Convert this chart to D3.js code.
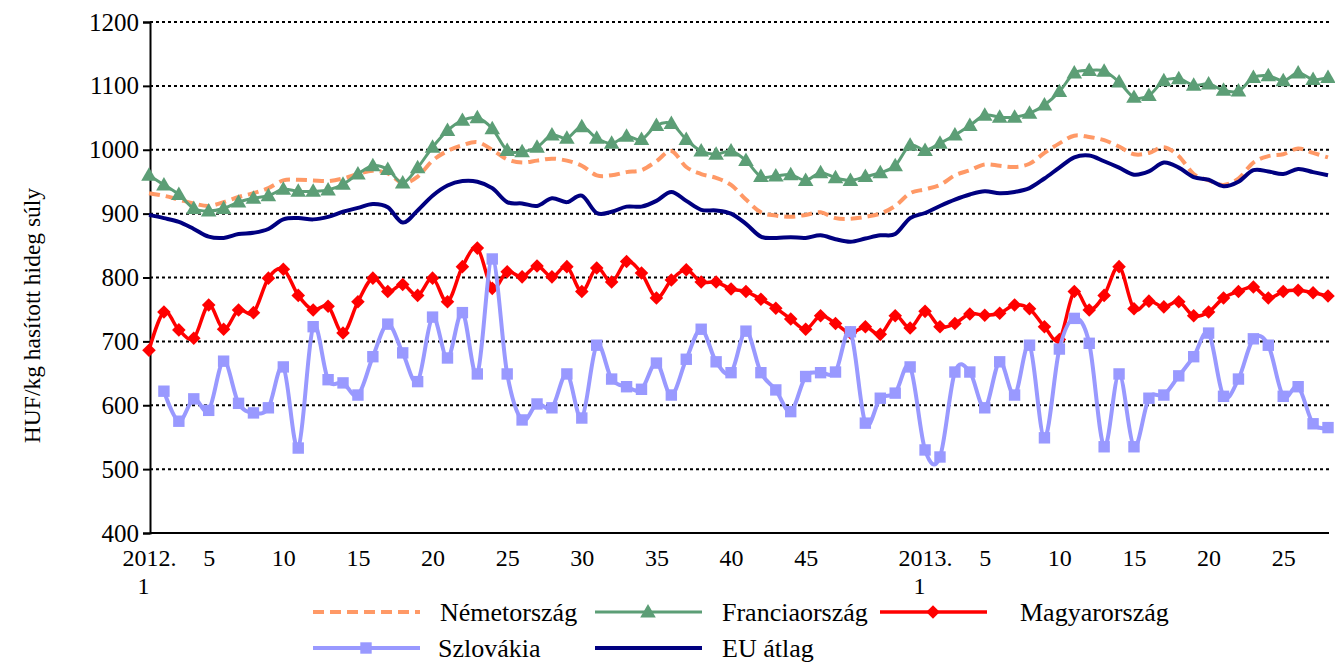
<!DOCTYPE html>
<meta charset="utf-8">
<style>
body { margin: 0; background: #fff; }
text { font-family: "Liberation Serif", "DejaVu Serif", serif; fill: #000; }
.grid line { stroke: #000; stroke-width: 2; stroke-dasharray: 3,3; }
</style>
<svg width="1335" height="662"></svg>
<script src="https://cdn.jsdelivr.net/npm/d3@7"></script>
<script>
// weeks: 2012 w1..52, 2013 w1..28
var years = [2012, 2013];
var weeksPerYear = [52, 28];

var germany = [932,928,922,916,912,918,926,932,940,952, 953,952,951,955,962,967,963,948,958,983,
  998,1007,1012,1000,985,980,983,986,983,975, 960,960,965,968,982,998,973,962,956,945,
  922,902,897,895,898,902,893,892,895,900, 912,932,938,945,960,968,977,975,973,978,
  995,1010,1022,1020,1015,1005,993,995,1004,990, 962,952,945,955,980,990,993,1002,995,988];

var france = [960,945,930,908,904,908,918,924,928,938, 935,935,937,946,962,975,969,948,972,1004,
  1030,1046,1050,1033,999,997,1004,1023,1018,1036, 1018,1010,1021,1016,1038,1041,1016,998,993,998,
  983,958,959,961,952,964,956,952,958,964, 975,1007,999,1010,1023,1038,1054,1051,1051,1057,
  1070,1091,1120,1124,1123,1106,1082,1085,1108,1111, 1101,1103,1093,1092,1113,1116,1108,1120,1110,1113];

var hungary = [686,746,718,705,757,719,749,745,799,813, 772,749,755,713,762,799,778,789,772,799,
  762,817,846,783,809,801,818,801,817,778, 815,793,825,807,768,796,812,793,793,782,
  778,766,752,735,719,740,728,713,723,711, 740,721,747,723,728,743,741,744,757,751,
  723,703,778,749,772,817,751,763,754,762, 740,746,768,778,785,768,778,780,776,771];

var slovakia = [null,622,575,610,592,669,603,588,596,660, 533,723,640,635,616,676,727,682,637,738,
  674,745,649,829,649,577,602,596,649,580, 694,641,629,625,666,616,672,719,668,651,
  716,651,624,590,645,651,652,715,572,611, 619,660,530,519,652,652,596,668,616,694,
  549,688,736,697,535,649,535,611,616,646, 676,713,614,641,704,694,614,629,571,565];

var eu = [898,893,887,876,864,862,868,870,876,891, 893,891,895,903,909,915,910,886,905,928,
  944,951,950,940,918,916,912,924,918,928, 901,903,911,911,920,934,920,906,905,900,
  884,864,862,863,862,866,860,856,861,866, 868,893,901,912,922,930,935,932,934,940,
  955,972,988,991,982,972,961,966,980,972, 957,953,943,950,968,966,962,970,965,960];

var yTicks = [400,500,600,700,800,900,1000,1100,1200];

var categories = [];
years.forEach(function(y, i) {
  d3.range(1, weeksPerYear[i] + 1).forEach(function(w) {
    categories.push({key: y + "-" + w, year: y, week: w});
  });
});

var series = [
  {name: "Németország", values: germany, color: "#ff9966", width: 4, dash: "11,6", marker: null},
  {name: "Franciaország", values: france, color: "#5c9e76", width: 3, dash: null, marker: "triangle"},
  {name: "Magyarország", values: hungary, color: "#ff0000", width: 3.5, dash: null, marker: "diamond"},
  {name: "Szlovákia", values: slovakia, color: "#9999ff", width: 4, dash: null, marker: "square"},
  {name: "EU átlag", values: eu, color: "#000080", width: 4, dash: null, marker: null}
];

var svg = d3.select("svg");
var margin = {left: 150, right: 6, top: 22, bottom: 129};
var W = 1335, H = 662;

var x = d3.scalePoint()
    .domain(categories.map(function(d) { return d.key; }))
    .range([margin.left - 1, W - margin.right - 1]);

var y = d3.scaleLinear()
    .domain([400, 1200])
    .range([H - margin.bottom, margin.top]);

// grid
svg.append("g")
    .attr("class", "grid")
  .selectAll("line")
  .data(yTicks.slice(1))
  .enter().append("line")
    .attr("x1", margin.left)
    .attr("x2", W - margin.right)
    .attr("y1", function(d) { return y(d); })
    .attr("y2", function(d) { return y(d); });

// y axis
var yAxis = svg.append("g")
    .attr("transform", "translate(" + margin.left + ",0)")
    .call(d3.axisLeft(y).tickValues(yTicks).tickFormat(d3.format("d")).tickSize(7).tickPadding(4));
yAxis.attr("font-family", null).attr("font-size", null);
yAxis.select(".domain").attr("stroke", "#000").attr("stroke-width", 2);
yAxis.selectAll(".tick line").attr("stroke", "#000").attr("stroke-width", 2);
yAxis.selectAll("text").style("font-size", "25px");

// x axis
var labelled = categories.filter(function(d) {
  var last = d.year === 2012 ? 45 : 25;
  return d.week === 1 || (d.week % 5 === 0 && d.week <= last);
});
var xAxis = svg.append("g")
    .attr("transform", "translate(0," + y(400) + ")")
    .call(d3.axisBottom(x).tickValues(labelled.map(function(d) { return d.key; })).tickSize(0).tickPadding(16));
xAxis.attr("font-family", null).attr("font-size", null);
xAxis.select(".domain").attr("stroke", "#000").attr("stroke-width", 2).attr("d", "M" + margin.left + ",0H" + (W - margin.right));
xAxis.selectAll("text")
    .style("font-size", "24px")
    .each(function(k) {
      var c = categories.find(function(d) { return d.key === k; });
      var t = d3.select(this).text(null);
      if (c.week === 1) {
        t.append("tspan").attr("x", 0).text(c.year + ".");
        t.append("tspan").attr("x", -6).attr("dy", "1.15em").text("1");
      } else {
        t.text(c.week);
      }
    });

// lines
var line = function(vals) {
  return d3.line()
      .defined(function(d) { return d != null; })
      .x(function(d, i) { return x(categories[i].key); })
      .y(function(d) { return y(d); })
      .curve(d3.curveCardinal.tension(0))(vals);
};

var symbols = {
  triangle: d3.symbol().type(d3.symbolTriangle).size(105),
  square: d3.symbol().type(d3.symbolSquare).size(130),
  diamond: d3.symbol().type(d3.symbolSquare).size(92)
};

function drawMarker(g, kind, color) {
  var p = g.append("path")
      .attr("d", symbols[kind]())
      .attr("fill", color);
  if (kind === "diamond") p.attr("transform", "rotate(45)");
  if (kind === "triangle") p.attr("transform", "translate(0,1)");
}

var plot = svg.append("g");
series.forEach(function(s) {
  var g = plot.append("g");
  g.append("path")
      .attr("d", line(s.values))
      .attr("fill", "none")
      .attr("stroke", s.color)
      .attr("stroke-width", s.width)
      .attr("stroke-dasharray", s.dash);
  if (s.marker) {
    s.values.forEach(function(v, i) {
      if (v == null) return;
      var m = g.append("g")
          .attr("transform", "translate(" + x(categories[i].key) + "," + y(v) + ")");
      drawMarker(m, s.marker, s.color);
    });
  }
});

// y label
svg.append("text")
    .attr("transform", "translate(40," + ((margin.top + y(400)) / 2 + 38) + ") rotate(-90)")
    .attr("text-anchor", "middle")
    .style("font-size", "23.5px")
    .text("HUF/kg hasított hideg súly");

// legend
var legendPos = [
  {sx: 313, tx: 440, y: 612},
  {sx: 595, tx: 722, y: 612},
  {sx: 880, tx: 1020, y: 612},
  {sx: 313, tx: 438, y: 648},
  {sx: 595, tx: 722, y: 648}
];
var legend = svg.append("g");
series.forEach(function(s, i) {
  var p = legendPos[i];
  var g = legend.append("g");
  g.append("line")
      .attr("x1", p.sx).attr("x2", p.sx + 107)
      .attr("y1", p.y).attr("y2", p.y)
      .attr("stroke", s.color)
      .attr("stroke-width", s.width)
      .attr("stroke-dasharray", s.dash);
  if (s.marker) {
    var m = g.append("g").attr("transform", "translate(" + (p.sx + 53) + "," + p.y + ")");
    drawMarker(m, s.marker, s.color);
  }
  g.append("text")
      .attr("x", p.tx)
      .attr("y", p.y)
      .attr("dy", "0.35em")
      .style("font-size", "26px")
      .text(s.name);
});
</script>
